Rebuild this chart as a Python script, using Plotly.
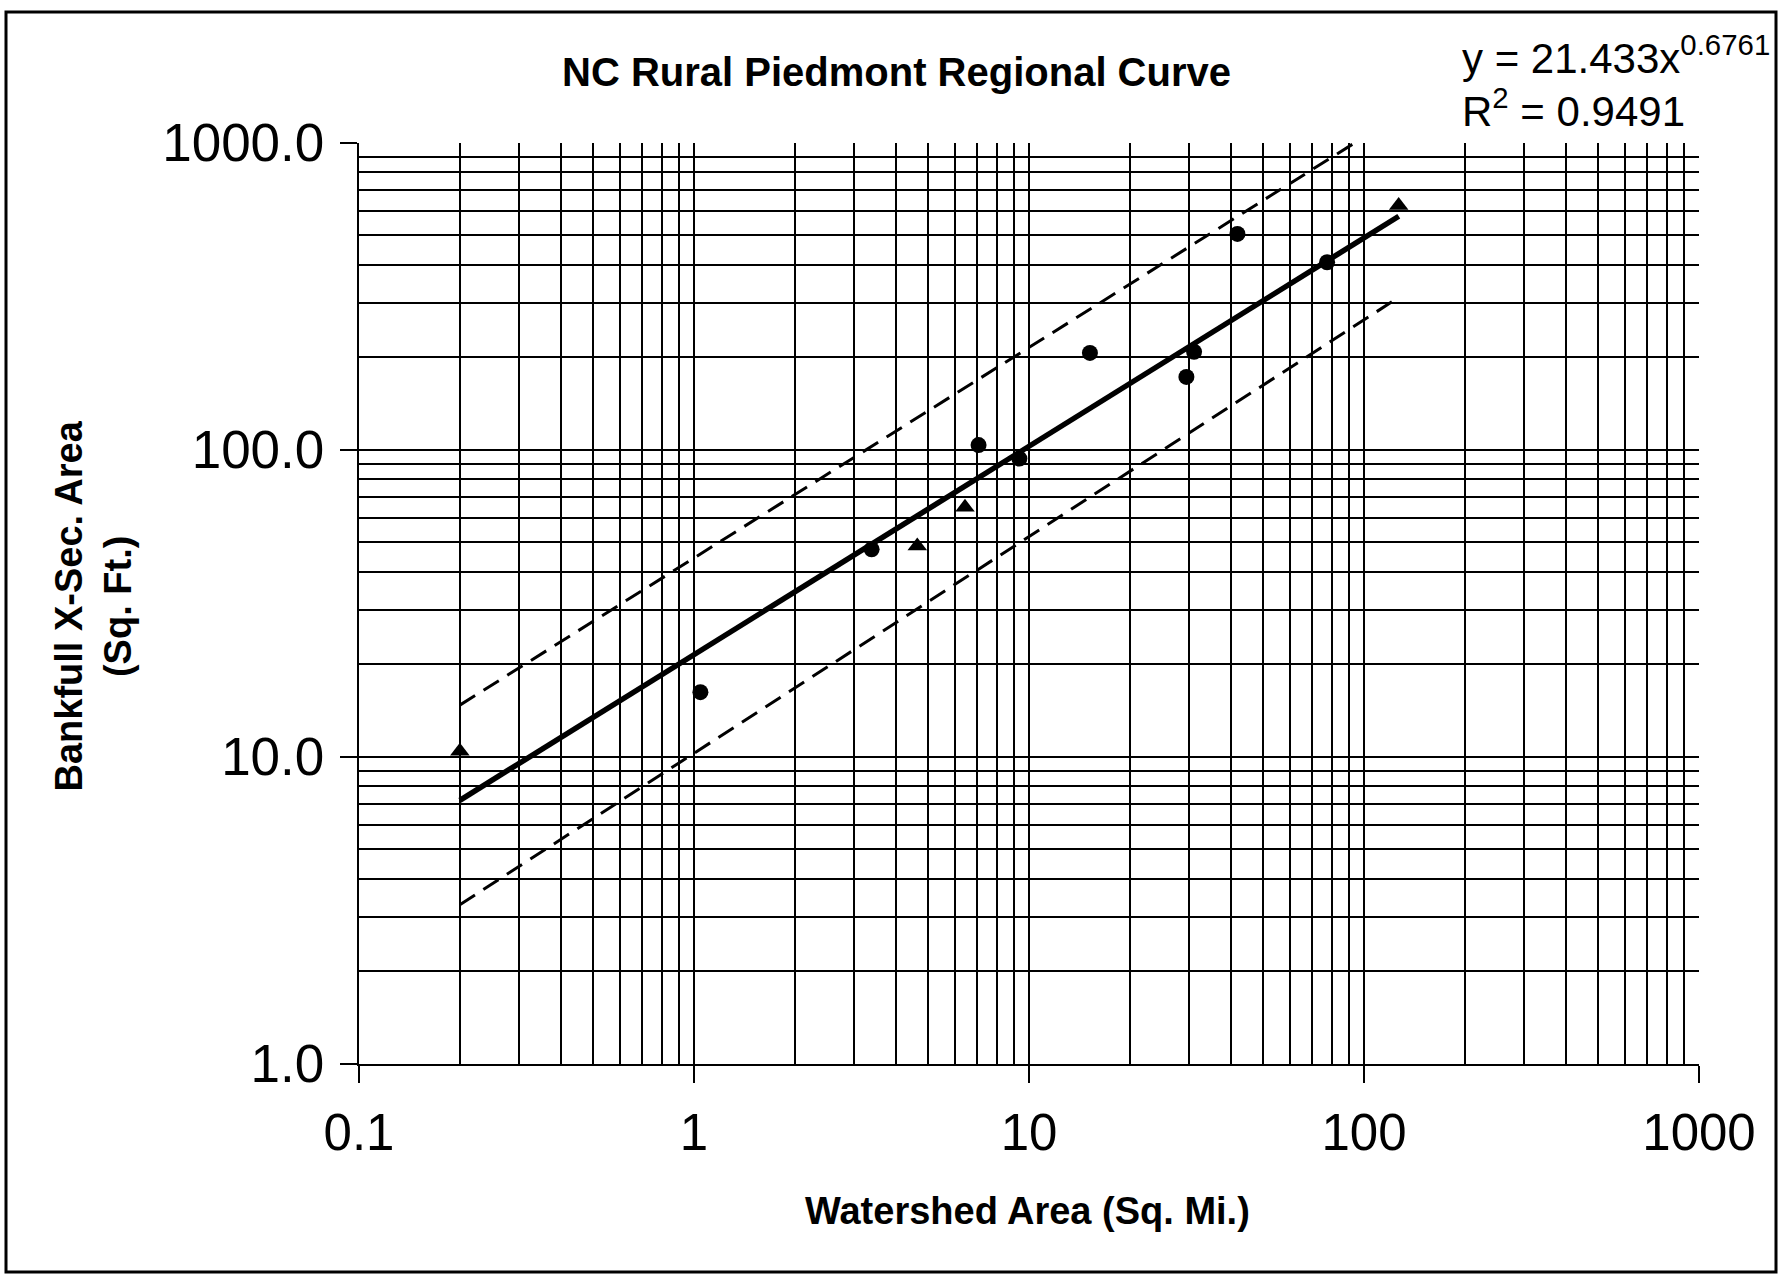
import plotly.graph_objects as go

# ---------------- data ----------------
circle_area = [1.045, 3.39, 7.07, 9.36, 15.2, 29.5, 31.1, 41.9, 77.6]
circle_xsec = [16.2, 47.3, 103.4, 93.4, 206.3, 172.4, 208.0, 503.9, 407.4]
tri_area = [0.2, 4.64, 6.44, 126.9]
tri_xsec = [10.4, 48.5, 64.8, 623.5]
fit_area = [0.2, 127]
fit_xsec = [7.2, 575]
upper_area = [0.2, 114]
upper_xsec = [14.7, 1140]
lower_area = [0.2, 127]
lower_xsec = [3.29, 313]

x_tick_vals = [0.1, 1, 10, 100, 1000]
x_tick_text = ["0.1", "1", "10", "100", "1000"]
y_tick_vals = [1, 10, 100, 1000]
y_tick_text = ["1.0", "10.0", "100.0", "1000.0"]
x_decades = [0.1, 1, 10, 100]
y_decades = [1, 10, 100]

title_text = "NC Rural Piedmont Regional Curve"
eq_text = "y = 21.433x<sup>0.6761</sup>"
r2_text = "R<sup>2</sup> = 0.9491"
x_title = "Watershed Area (Sq. Mi.)"
y_title = "Bankfull X-Sec. Area<br>(Sq. Ft.)"

W, H = 1780, 1281
FONT = "Liberation Sans, Arial, sans-serif"

x_grid = [d * m for d in x_decades for m in range(1, 10)]
y_grid = [d * m for d in y_decades for m in range(1, 10)]

fig = go.Figure()
fig.add_trace(go.Scatter(x=upper_area, y=upper_xsec, mode="lines",
                         line=dict(color="black", width=3, dash="18px,10px")))
fig.add_trace(go.Scatter(x=lower_area, y=lower_xsec, mode="lines",
                         line=dict(color="black", width=3, dash="18px,10px")))
fig.add_trace(go.Scatter(x=fit_area, y=fit_xsec, mode="lines",
                         line=dict(color="black", width=5.5)))
fig.add_trace(go.Scatter(x=circle_area, y=circle_xsec, mode="markers",
                         marker=dict(symbol="circle", size=16, color="black")))
fig.add_trace(go.Scatter(x=tri_area, y=tri_xsec, mode="markers",
                         marker=dict(symbol="triangle-up", size=17, color="black")))

axis_common = dict(
    type="log", showline=True, linecolor="black", linewidth=2.2,
    ticks="outside", ticklen=17, tickwidth=2.2, tickcolor="black",
    showgrid=False, zeroline=False, automargin=False,
    tickmode="array",
)

fig.update_layout(
    width=W, height=H,
    margin=dict(l=0, r=0, t=0, b=0, pad=0, autoexpand=False),
    paper_bgcolor="white", plot_bgcolor="white",
    showlegend=False,
    xaxis=dict(axis_common, range=[-1, 3], domain=[359 / W, 1699 / W],
               tickvals=x_tick_vals, ticktext=x_tick_text,
               tickfont=dict(family=FONT, size=51, color="black"),
               ticklabelstandoff=6,
               minor=dict(tickmode="array", tickvals=x_grid, showgrid=True,
                          gridcolor="black", gridwidth=2.1, ticks="")),
    yaxis=dict(axis_common, range=[0, 3],
               domain=[(H - 1063.5) / H, (H - 142.5) / H],
               tickvals=y_tick_vals, ticktext=y_tick_text,
               tickfont=dict(family=FONT, size=53, color="black"),
               ticklabelstandoff=5,
               minor=dict(tickmode="array", tickvals=y_grid, showgrid=True,
                          gridcolor="black", gridwidth=2.1, ticks="")),
)

ann = []
ann.append(dict(text="<b>" + title_text + "</b>", x=896 / W, y=1 - 72 / H,
                xref="paper", yref="paper", xanchor="center", yanchor="middle",
                showarrow=False, font=dict(family=FONT, size=40, color="black")))
ann.append(dict(text=eq_text, x=1460 / W, y=1 - 55 / H,
                xref="paper", yref="paper", xanchor="left", yanchor="middle",
                showarrow=False, font=dict(family=FONT, size=42, color="black")))
ann.append(dict(text=r2_text, x=1460 / W, y=1 - 108 / H,
                xref="paper", yref="paper", xanchor="left", yanchor="middle",
                showarrow=False, font=dict(family=FONT, size=42, color="black")))
ann.append(dict(text="<b>" + x_title + "</b>", x=1027 / W, y=1 - 1211 / H,
                xref="paper", yref="paper", xanchor="center", yanchor="middle",
                showarrow=False, font=dict(family=FONT, size=38, color="black")))
ann.append(dict(text="<b>" + y_title + "</b>", x=92.5 / W, y=1 - 606 / H,
                xref="paper", yref="paper", xanchor="center", yanchor="middle",
                textangle=-90, showarrow=False,
                font=dict(family=FONT, size=38, color="black")))
fig.update_layout(annotations=ann)

# scanned page frame
fig.add_shape(type="rect", xref="paper", yref="paper",
              x0=6 / W, x1=1776 / W, y0=1 - 1272 / H, y1=1 - 12 / H,
              line=dict(color="black", width=3), layer="below")

fig.write_html("out.html", config={"displayModeBar": False},
               post_script="document.body.style.margin='0';document.body.style.overflow='hidden';")
